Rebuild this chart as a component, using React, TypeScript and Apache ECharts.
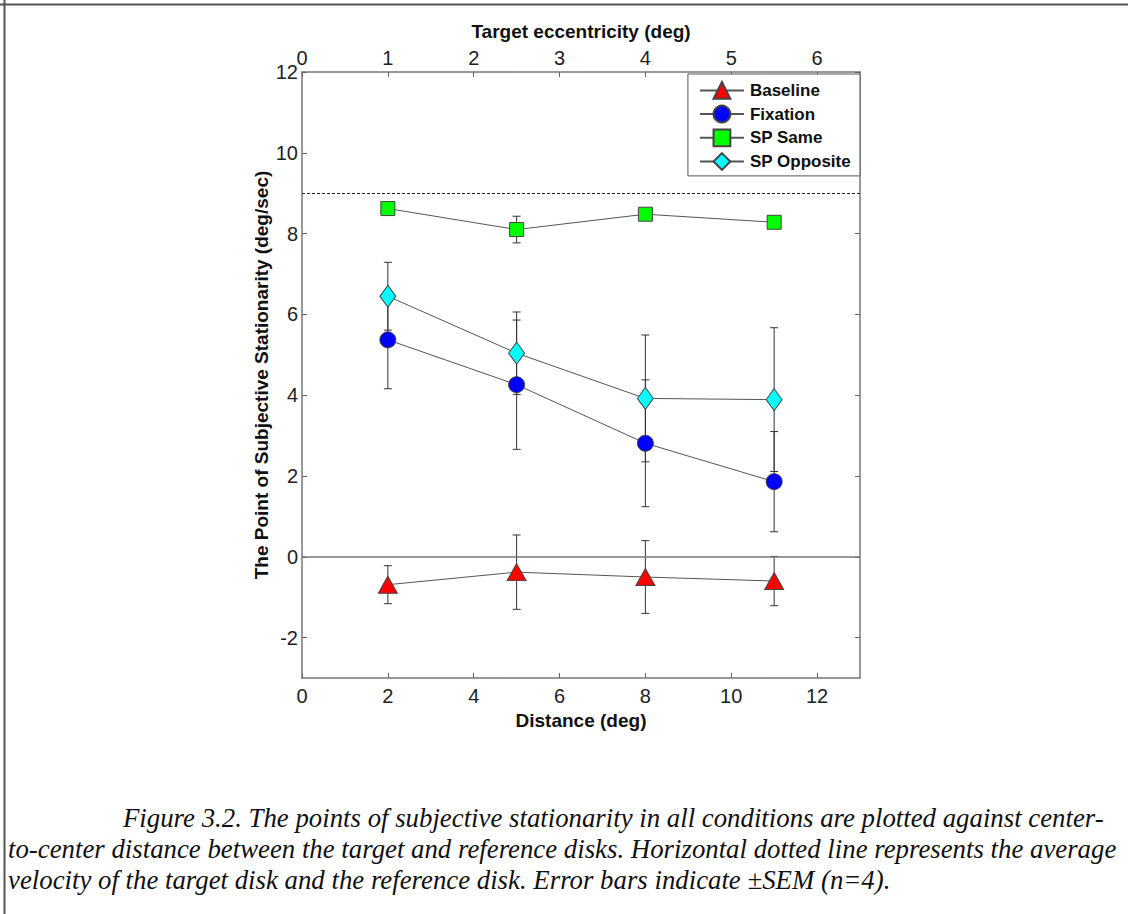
import React, { useEffect, useRef } from "react";
import * as echarts from "echarts";

const distances = [2, 5, 8, 11];
const distTicks = [0, 2, 4, 6, 8, 10, 12];
const eccTicks = [0, 1, 2, 3, 4, 5, 6];
const yTicks = [-2, 0, 2, 4, 6, 8, 10, 12];

const baselineMean = [-0.69, -0.38, -0.5, -0.6];
const baselineSem = [0.47, 0.92, 0.9, 0.61];
const fixationMean = [5.37, 4.26, 2.81, 1.86];
const fixationSem = [1.21, 1.6, 1.57, 1.24];
const spSameMean = [8.62, 8.1, 8.48, 8.28];
const spSameSem = [0.1, 0.33, 0.1, 0.1];
const spOppMean = [6.45, 5.04, 3.92, 3.89];
const spOppSem = [0.84, 1.02, 1.57, 1.78];

const zeroLine = 0;
const averageVelocity = 9;

const captionLines = [
  "Figure 3.2. The points of subjective stationarity in all conditions are plotted against center-",
  "to-center distance between the target and reference disks. Horizontal dotted line represents the average",
  "velocity of the target disk and the reference disk. Error bars indicate \u00b1SEM (n=4).",
];

const conditions = [
  { name: "Baseline", mean: baselineMean, sem: baselineSem, color: "#ff0000", symbol: "triangle", size: [19, 17] },
  { name: "Fixation", mean: fixationMean, sem: fixationSem, color: "#0000ff", symbol: "circle", size: 16 },
  { name: "SP Same", mean: spSameMean, sem: spSameSem, color: "#00ff00", symbol: "rect", size: 14 },
  { name: "SP Opposite", mean: spOppMean, sem: spOppSem, color: "#00ffff", symbol: "diamond", size: [16, 22] },
];

const FONT = "'Liberation Sans', Arial, sans-serif";

export default function App() {
  const ref = useRef<HTMLDivElement>(null);
  useEffect(() => {
    document.body.style.margin = "0";
    const chart = echarts.init(ref.current!, null, { renderer: "svg" });

    const errRender = (params: any, api: any) => {
      const x = api.value(0);
      const lo = api.coord([x, api.value(1)]);
      const hi = api.coord([x, api.value(2)]);
      const cap = 4;
      const st = { stroke: "#333", lineWidth: 1 };
      return {
        type: "group",
        children: [
          { type: "line", shape: { x1: lo[0], y1: lo[1], x2: hi[0], y2: hi[1] }, style: st },
          { type: "line", shape: { x1: lo[0] - cap, y1: lo[1], x2: lo[0] + cap, y2: lo[1] }, style: st },
          { type: "line", shape: { x1: hi[0] - cap, y1: hi[1], x2: hi[0] + cap, y2: hi[1] }, style: st },
        ],
      };
    };

    const series: any[] = [];
    conditions.forEach((c) => {
      series.push({
        name: c.name + " SEM",
        type: "custom",
        renderItem: errRender,
        data: distances.map((d, i) => [d, c.mean[i] - c.sem[i], c.mean[i] + c.sem[i]]),
        encode: { x: 0, y: [1, 2] },
        z: 2,
        silent: true,
      });
    });
    conditions.forEach((c, ci) => {
      const s: any = {
        name: c.name,
        type: "line",
        data: distances.map((d, i) => [d, c.mean[i]]),
        symbol: c.symbol,
        symbolSize: c.size,
        showAllSymbol: true,
        lineStyle: { color: "#555", width: 1 },
        itemStyle: { color: c.color, borderColor: "#444", borderWidth: 1 },
        z: 3,
      };
      if (ci === 0) {
        s.markLine = {
          silent: true,
          symbol: ["none", "none"],
          label: { show: false },
          data: [
            { yAxis: zeroLine, lineStyle: { color: "#777", type: "solid", width: 1.5 } },
            { yAxis: averageVelocity, lineStyle: { color: "#222", type: [3, 2], width: 1 } },
          ],
        };
      }
      series.push(s);
    });

    const axisLineStyle = { color: "#777", width: 1.5 };
    const tickStyle = { color: "#666", width: 1 };
    const labelStyle = { color: "#222", fontSize: 20, fontFamily: FONT };
    const nameStyle = { color: "#111", fontSize: 19, fontWeight: "bold", fontFamily: FONT };

    chart.setOption({
      animation: false,
      backgroundColor: "#ffffff",
      grid: { left: 302, right: 268, top: 72, bottom: 236 },
      xAxis: [
        {
          type: "value",
          position: "bottom",
          min: 0,
          max: 13,
          axisLine: { show: true, onZero: false, lineStyle: axisLineStyle },
          axisTick: { show: true, inside: true, length: 5, customValues: distTicks, lineStyle: tickStyle },
          axisLabel: { ...labelStyle, margin: 8, customValues: distTicks },
          splitLine: { show: false },
          name: "Distance (deg)",
          nameLocation: "middle",
          nameGap: 29,
          nameTextStyle: nameStyle,
        },
        {
          type: "value",
          position: "top",
          min: 0,
          max: 6.5,
          axisLine: { show: true, onZero: false, lineStyle: axisLineStyle },
          axisTick: { show: true, inside: true, length: 5, customValues: eccTicks, lineStyle: tickStyle },
          axisLabel: { ...labelStyle, margin: 4, customValues: eccTicks },
          splitLine: { show: false },
          name: "Target eccentricity (deg)",
          nameLocation: "middle",
          nameGap: 31,
          nameTextStyle: nameStyle,
        },
      ],
      yAxis: [
        {
          type: "value",
          position: "left",
          min: -3,
          max: 12,
          axisLine: { show: true, onZero: false, lineStyle: axisLineStyle },
          axisTick: { show: true, inside: true, length: 5, customValues: yTicks, lineStyle: tickStyle },
          axisLabel: { ...labelStyle, margin: 4, customValues: yTicks },
          splitLine: { show: false },
          name: "The Point of Subjective Stationarity (deg/sec)",
          nameLocation: "middle",
          nameGap: 31,
          nameTextStyle: nameStyle,
        },
        {
          type: "value",
          position: "right",
          min: -3,
          max: 12,
          axisLine: { show: true, onZero: false, lineStyle: axisLineStyle },
          axisTick: { show: true, inside: true, length: 5, customValues: yTicks, lineStyle: tickStyle },
          axisLabel: { show: false },
          splitLine: { show: false },
        },
      ],
      legend: {
        data: conditions.map((c) => c.name),
        orient: "vertical",
        right: 268,
        top: 74,
        itemWidth: 44,
        itemHeight: 21,
        itemGap: 4.9,
        padding: [7, 9, 5, 11],
        borderColor: "#555",
        borderWidth: 1,
        backgroundColor: "#fff",
        textStyle: { color: "#111", fontSize: 17, fontWeight: "bold", fontFamily: FONT, padding: [0, 0, 0, 1] },
      },
      graphic: [
        { type: "line", shape: { x1: 0, y1: 4.5, x2: 1128, y2: 4.5 }, style: { stroke: "#555", lineWidth: 2 } },
        { type: "line", shape: { x1: 4.5, y1: 0, x2: 4.5, y2: 914 }, style: { stroke: "#555", lineWidth: 2 } },
        ...captionLines.map((t, i) => ({
          type: "text",
          x: i === 0 ? 123 : 8,
          y: 818 + i * 31,
          style: {
            text: t,
            fontSize: 26.8,
            fontStyle: "italic",
            fontFamily: "'Liberation Serif', 'Times New Roman', serif",
            fill: "#111",
            textVerticalAlign: "middle",
          },
        })),
      ],
      series,
    });
    return () => chart.dispose();
  }, []);
  return <div ref={ref} style={{ width: 1128, height: 914 }} />;
}
